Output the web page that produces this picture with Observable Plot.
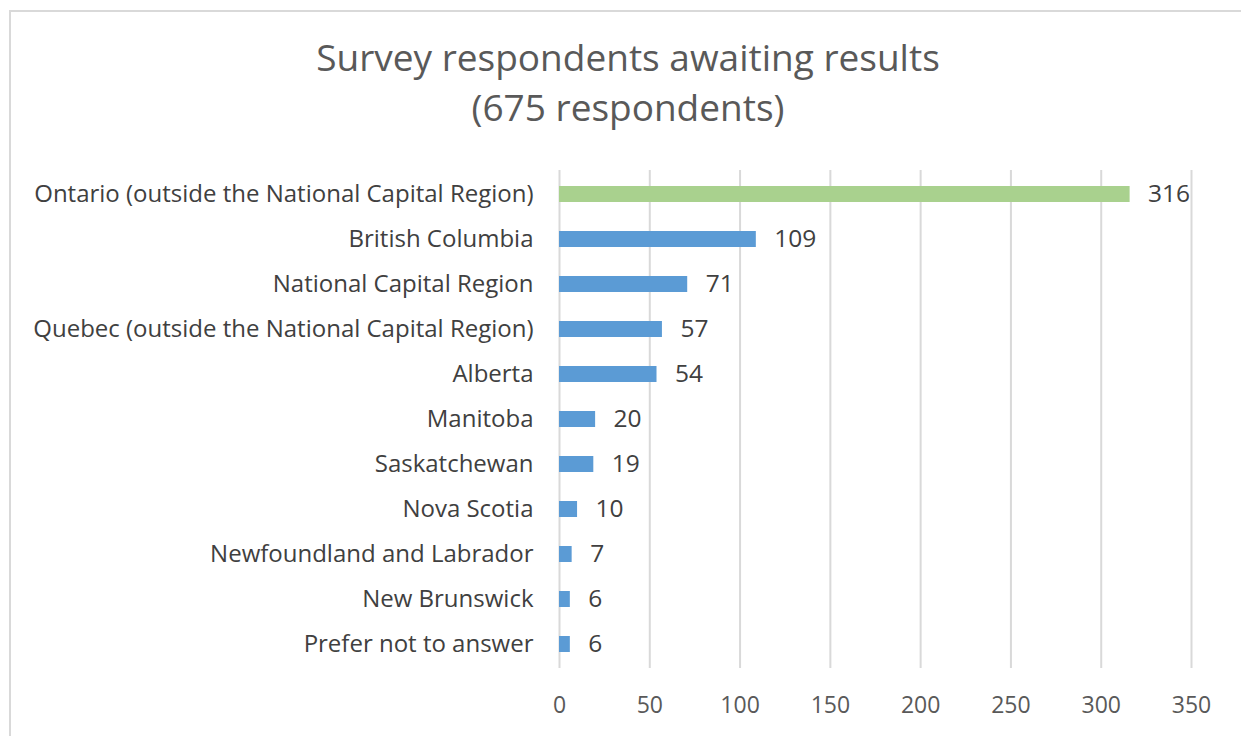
<!DOCTYPE html>
<html>
<head>
<meta charset="utf-8">
<script src="https://cdn.jsdelivr.net/npm/d3@7"></script>
<script src="https://cdn.jsdelivr.net/npm/@observablehq/plot@0.6"></script>
<style>
  body { margin: 0; background: #fff; }
  #wrap { position: relative; width: 1241px; height: 736px; overflow: hidden; background: #fff; font-family: "Open Sans", Lato, sans-serif; }
  #frame { position: absolute; left: 9px; top: 10px; width: 1300px; height: 800px; border: 2px solid #d9d9d9; box-sizing: border-box; }
  #title { position: relative; box-sizing: border-box; width: 1241px; height: 150px; padding-top: 32px; padding-left: 15px; text-align: center; color: #595959; font-size: 37px; line-height: 50px; }
  #chart { position: relative; }
</style>
</head>
<body>
<div id="wrap">
  <div id="frame"></div>
  <div id="title">Survey respondents awaiting results<br>(675 respondents)</div>
  <div id="chart"></div>
</div>
<script>
const regions = [
  "Ontario (outside the National Capital Region)",
  "British Columbia",
  "National Capital Region",
  "Quebec (outside the National Capital Region)",
  "Alberta",
  "Manitoba",
  "Saskatchewan",
  "Nova Scotia",
  "Newfoundland and Labrador",
  "New Brunswick",
  "Prefer not to answer"
];
const counts = [316, 109, 71, 57, 54, 20, 19, 10, 7, 6, 6];
const highlight = ["Ontario (outside the National Capital Region)"];
const xTicks = [0, 50, 100, 150, 200, 250, 300, 350];

const data = regions.map((r, i) => ({region: r, count: counts[i], hl: highlight.includes(r)}));

const chart = Plot.plot({
  width: 1241,
  height: 586,
  marginTop: 20,
  marginBottom: 68,
  marginLeft: 559,
  marginRight: 50,
  style: { fontFamily: "'Open Sans', Lato, sans-serif", background: "transparent", overflow: "visible" },
  x: { domain: [0, 350], ticks: xTicks, label: null },
  y: { domain: regions, paddingInner: 0.65, paddingOuter: 0.325, label: null },
  marks: [
    Plot.ruleX(xTicks, { stroke: "#d9d9d9", strokeWidth: 2, strokeOpacity: 1 }),
    Plot.barX(data, { x: "count", y: "region", fill: d => d.hl ? "#a9d18e" : "#5b9bd5" }),
    Plot.text(data, { x: "count", y: "region", text: d => String(d.count), dx: 18, textAnchor: "start", fontSize: 24.5, fill: "#404040" }),
    Plot.axisX(xTicks, { tickSize: 0, tickPadding: 28, fontSize: 23, color: "#595959", label: null }),
    Plot.axisY({ tickSize: 0, tickPadding: 26, fontSize: 24, color: "#404040", label: null })
  ]
});
document.getElementById("chart").appendChild(chart);
</script>
</body>
</html>
